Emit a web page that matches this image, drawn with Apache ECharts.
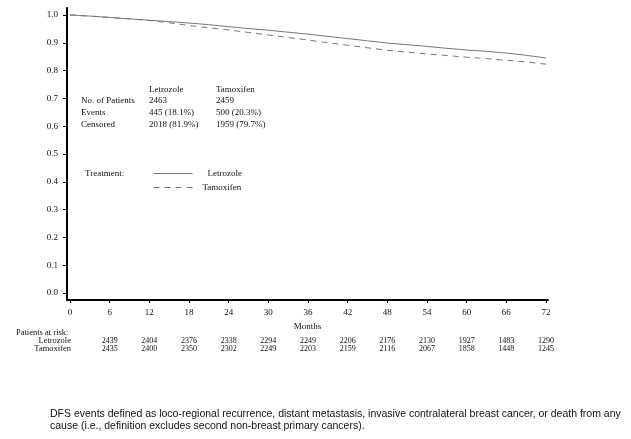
<!DOCTYPE html>
<html>
<head>
<meta charset="utf-8">
<script src="https://cdn.jsdelivr.net/npm/echarts@6/dist/echarts.min.js"></script>
<style>
html,body{margin:0;padding:0;background:#fff;}
#chart{width:631px;height:439px;}
</style>
</head>
<body>
<div id="chart"></div>
<script>
// ---- Data ----
const months = [0,3,6,9,12,15,18,21,24,27,30,33,36,39,42,45,48,51,54,57,60,63,66,69,72];
const letrozole = [1.000,0.996,0.991,0.986,0.981,0.976,0.971,0.965,0.958,0.951,0.945,0.938,0.931,0.923,0.915,0.907,0.899,0.893,0.887,0.880,0.874,0.869,0.863,0.855,0.845];
const tamoxifen = [1.000,0.996,0.991,0.986,0.980,0.972,0.962,0.954,0.946,0.937,0.928,0.919,0.910,0.900,0.891,0.882,0.873,0.866,0.860,0.854,0.848,0.843,0.837,0.831,0.823];

const xTicks = [0,6,12,18,24,30,36,42,48,54,60,66,72];
const yTicks = [0,0.1,0.2,0.3,0.4,0.5,0.6,0.7,0.8,0.9,1.0];

const riskMonths = [6,12,18,24,30,36,42,48,54,60,66,72];
const riskLetrozole = [2439,2404,2376,2338,2294,2249,2206,2176,2130,1927,1483,1290];
const riskTamoxifen = [2435,2400,2350,2302,2249,2203,2159,2116,2067,1858,1448,1245];

const summaryHeaders = ['Letrozole','Tamoxifen'];
const summaryRows = ['No. of Patients','Events','Censored'];
const summaryLetrozole = ['2463','445 (18.1%)','2018 (81.9%)'];
const summaryTamoxifen = ['2459','500 (20.3%)','1959 (79.7%)'];

const footnote = 'DFS events defined as loco-regional recurrence, distant metastasis, invasive contralateral breast cancer, or death from any\ncause (i.e., definition excludes second non-breast primary cancers).';

// ---- Styles ----
const SERIF = '"Liberation Serif", "DejaVu Serif", serif';
const TXT = '#111';
const FS = 9;
const FS_NUM = 8;

const chart = echarts.init(document.getElementById('chart'), null, {renderer:'canvas'});

function txt(text, x, y, align, size) {
  return {
    type:'text', x:x, y:y, silent:true,
    style:{text:text, fontFamily:SERIF, fontSize:size||FS, fill:TXT, align:align||'left', verticalAlign:'middle'}
  };
}

const graphics = [];
// summary table
const colX = [149, 216];
summaryHeaders.forEach((h,i)=>graphics.push(txt(h, colX[i], 90)));
const rowY = [101, 113, 125];
summaryRows.forEach((r,i)=>{
  graphics.push(txt(r, 81, rowY[i]));
  graphics.push(txt(summaryLetrozole[i], colX[0], rowY[i]));
  graphics.push(txt(summaryTamoxifen[i], colX[1], rowY[i]));
});
graphics.push(txt('Treatment:', 85, 174));
// risk table row titles
graphics.push(txt('Patients at risk:', 16, 333, 'left', 8.5));
graphics.push(txt('Letrozole', 71, 341, 'right', 8.5));
graphics.push(txt('Tamoxifen', 71, 349, 'right', 8.5));
// footnote
graphics.push({
  type:'text', x:50, y:408, silent:true,
  style:{text:footnote, fontFamily:'"Liberation Sans", Arial, sans-serif', fontSize:10.5, lineHeight:12, fill:'#111', align:'left', verticalAlign:'top'}
});

function riskAxis(offset, values) {
  return {
    type:'value', min:-0.45, max:72.3, position:'bottom', offset:offset,
    axisLine:{show:false}, axisTick:{show:false}, splitLine:{show:false},
    axisLabel:{
      customValues: riskMonths, margin:0,
      fontFamily:SERIF, fontSize:FS_NUM, color:TXT,
      formatter: v => { const i = riskMonths.indexOf(Math.round(v)); return i >= 0 ? String(values[i]) : ''; }
    }
  };
}

const option = {
  backgroundColor:'#fff',
  animation:false,
  grid:{left:67, right:83, top:8, bottom:139, containLabel:false},
  legend:[
    {data:['Letrozole'], left:153, top:169, padding:0, itemWidth:39, itemHeight:8, selectedMode:false,
     itemStyle:{opacity:0}, lineStyle:{width:1, color:'#777'},
     textStyle:{fontFamily:SERIF, fontSize:FS, color:TXT, padding:[0,0,0,10]}},
    {data:['Tamoxifen'], left:153, top:183, padding:0, itemWidth:39, itemHeight:8, selectedMode:false,
     itemStyle:{opacity:0}, lineStyle:{width:1, color:'#777'},
     textStyle:{fontFamily:SERIF, fontSize:FS, color:TXT, padding:[0,0,0,5]}}
  ],
  xAxis:[
    {
      type:'value', min:-0.45, max:72.3, position:'bottom',
      name:'Months', nameLocation:'middle', nameGap:20,
      nameTextStyle:{fontFamily:SERIF, fontSize:FS, color:TXT},
      axisLine:{show:true, onZero:false, lineStyle:{color:'#000', width:2}},
      axisTick:{show:true, customValues:xTicks, length:3, lineStyle:{color:'#000'}},
      axisLabel:{customValues:xTicks, margin:8, fontFamily:SERIF, fontSize:FS, color:TXT},
      splitLine:{show:false}
    },
    riskAxis(37, riskLetrozole),
    riskAxis(45, riskTamoxifen)
  ],
  yAxis:{
    type:'value', min:-0.025, max:1.025,
    axisLine:{show:true, onZero:false, lineStyle:{color:'#000', width:2}},
    axisTick:{show:true, customValues:yTicks, length:4, lineStyle:{color:'#000'}},
    axisLabel:{customValues:yTicks, margin:9, fontFamily:SERIF, fontSize:FS, color:TXT,
      formatter: v => v.toFixed(1)},
    splitLine:{show:false}
  },
  series:[
    {name:'Letrozole', type:'line', xAxisIndex:0, symbol:'none', smooth:false,
     data: months.map((m,i)=>[m, letrozole[i]]),
     lineStyle:{color:'#777', width:1, type:'solid'}, itemStyle:{color:'#777'}},
    {name:'Tamoxifen', type:'line', xAxisIndex:0, symbol:'none', smooth:false,
     data: months.map((m,i)=>[m, tamoxifen[i]]),
     lineStyle:{color:'#777', width:1, type:[6,5]}, itemStyle:{color:'#777'}}
  ],
  graphic: graphics
};
chart.setOption(option);
</script>
</body>
</html>
